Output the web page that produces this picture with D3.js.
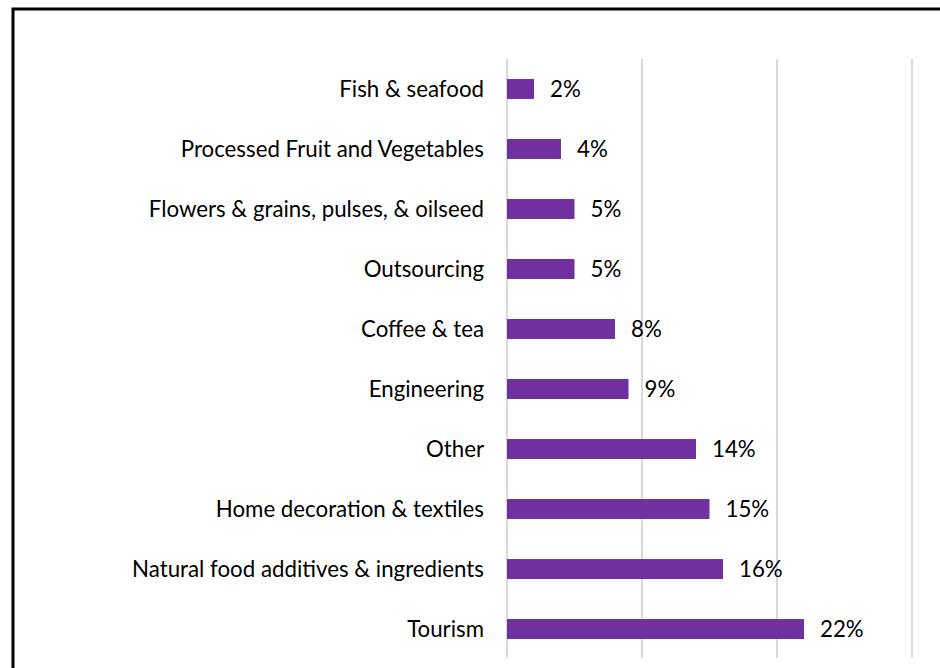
<!DOCTYPE html>
<html>
<head>
<meta charset="utf-8">
<script src="https://cdn.jsdelivr.net/npm/d3@7"></script>
<style>
  html, body { margin: 0; padding: 0; background: #fff; }
  svg { display: block; }
</style>
</head>
<body>
<svg id="chart" width="940" height="668"></svg>
<script>
// Share of exports by sector (%)
const categories = [
  "Fish & seafood",
  "Processed Fruit and Vegetables",
  "Flowers & grains, pulses, & oilseed",
  "Outsourcing",
  "Coffee & tea",
  "Engineering",
  "Other",
  "Home decoration & textiles",
  "Natural food additives & ingredients",
  "Tourism"
];
const values = [2, 4, 5, 5, 8, 9, 14, 15, 16, 22];
const gridTicks = [0, 10, 20, 30];

const svg = d3.select("#chart");
const W = 940, H = 668;
const fontFamily = "Lato, 'Open Sans', sans-serif";

// frame
svg.append("rect")
  .attr("x", 13).attr("y", 9)
  .attr("width", W + 20).attr("height", H + 20)
  .attr("fill", "#fff")
  .attr("stroke", "#000").attr("stroke-width", 3);

const x = d3.scaleLinear().domain([0, 30]).range([507, 912]);
const y = d3.scaleBand().domain(categories).range([59, 659])
  .paddingInner(0.667).paddingOuter(0.333);

// size the text so the longest category label spans the intended width
const probe = svg.append("text").attr("font-family", fontFamily).attr("font-size", 20)
  .text("Natural food additives & ingredients");
const fs = 20 * 352 / probe.node().getComputedTextLength();
probe.remove();
const capShift = fs * 0.36;

// vertical gridlines
svg.append("g").selectAll("line").data(gridTicks).join("line")
  .attr("x1", d => x(d)).attr("x2", d => x(d))
  .attr("y1", 59).attr("y2", 658)
  .attr("stroke", "#d9d9d9").attr("stroke-width", 2);

const rows = categories.map((c, i) => ({ c, v: values[i] }));

// bars
svg.append("g").selectAll("rect").data(rows).join("rect")
  .attr("x", x(0))
  .attr("y", d => y(d.c))
  .attr("width", d => x(d.v) - x(0))
  .attr("height", y.bandwidth())
  .attr("fill", "#7030a0");

// category labels
svg.append("g").selectAll("text").data(rows).join("text")
  .attr("x", 484)
  .attr("y", d => y(d.c) + y.bandwidth() / 2 + capShift)
  .attr("text-anchor", "end")
  .attr("font-family", fontFamily)
  .attr("font-size", fs)
  .attr("fill", "#000")
  .text(d => d.c);

// value labels
svg.append("g").selectAll("text").data(rows).join("text")
  .attr("x", d => x(d.v) + 16)
  .attr("y", d => y(d.c) + y.bandwidth() / 2 + capShift)
  .attr("font-family", fontFamily)
  .attr("font-size", fs)
  .attr("fill", "#000")
  .text(d => d.v + "%");
</script>
</body>
</html>
